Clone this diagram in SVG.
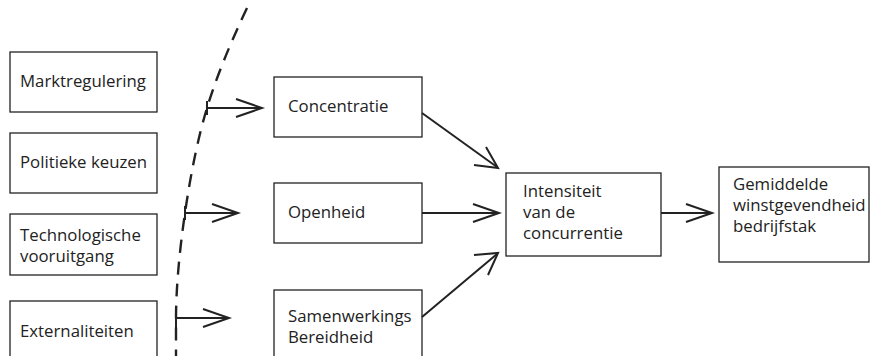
<svg xmlns="http://www.w3.org/2000/svg" width="870" height="356" viewBox="0 0 870 356">
<defs>
<style>
.box{fill:#fff;stroke:#222;stroke-width:1.3}
.t{font-family:"Open Sans","Noto Sans",sans-serif;font-size:16.8px;fill:#222}
.c{fill:none;stroke:#222;stroke-width:2}
.h{fill:none;stroke:#222;stroke-width:2;stroke-linejoin:miter}
.dash{fill:none;stroke:#222;stroke-width:2.4;stroke-dasharray:13 9}
</style>
</defs>
<rect width="870" height="356" fill="#fff"/>
<g id="boundary"><path class="dash" d="M247,8 Q220,65 207,108 Q194,151 185,213 Q176,275 176,320 L176,356"/></g>
<g id="n-markt"><rect class="box" x="10" y="52" width="147" height="60"/><text class="t" x="20" y="87">Marktregulering</text></g>
<g id="n-politiek"><rect class="box" x="10" y="133" width="147" height="60"/><text class="t" x="20" y="168">Politieke keuzen</text></g>
<g id="n-tech"><rect class="box" x="10" y="214" width="147" height="61"/><text class="t" x="20" y="241">Technologische</text><text class="t" x="20" y="262">vooruitgang</text></g>
<g id="n-ext"><rect class="box" x="10" y="301" width="147" height="60"/><text class="t" x="20" y="337">Externaliteiten</text></g>
<g id="n-conc"><rect class="box" x="274" y="77" width="148" height="60"/><text class="t" x="288" y="112">Concentratie</text></g>
<g id="n-open"><rect class="box" x="274" y="183" width="148" height="60"/><text class="t" x="288" y="218">Openheid</text></g>
<g id="n-samen"><rect class="box" x="274" y="290" width="148" height="70"/><text class="t" x="288" y="322">Samenwerkings</text><text class="t" x="288" y="343">Bereidheid</text></g>
<g id="n-intens"><rect class="box" x="506" y="173" width="155" height="83"/><text class="t" x="523" y="197">Intensiteit</text><text class="t" x="523" y="218">van de</text><text class="t" x="523" y="239">concurrentie</text></g>
<g id="n-gem"><rect class="box" x="719" y="167" width="150" height="95"/><text class="t" x="733" y="190">Gemiddelde</text><text class="t" x="733" y="211">winstgevendheid</text><text class="t" x="733" y="232">bedrijfstak</text></g>
<g id="connectors">
<path class="c" d="M207,101 V115 M207,108 H261"/><path class="h" d="M236,99 L262,108 L236,117"/>
<path class="c" d="M185,206 V220 M185,213 H237"/><path class="h" d="M212,204 L238,213 L212,222"/>
<path class="c" d="M176,330 V318 H228"/><path class="h" d="M203,309 L229,318 L203,327"/>
<path class="c" d="M422,113 L497,167"/><path class="h" d="M474,165 L498,168 L486,147"/>
<path class="c" d="M422,213 H498"/><path class="h" d="M473,204 L499,213 L473,222"/>
<path class="c" d="M422,317 L497,254"/><path class="h" d="M474,255 L498,253 L488,275"/>
<path class="c" d="M661,213 H711"/><path class="h" d="M686,204 L712,213 L686,222"/>
</g>
</svg>
